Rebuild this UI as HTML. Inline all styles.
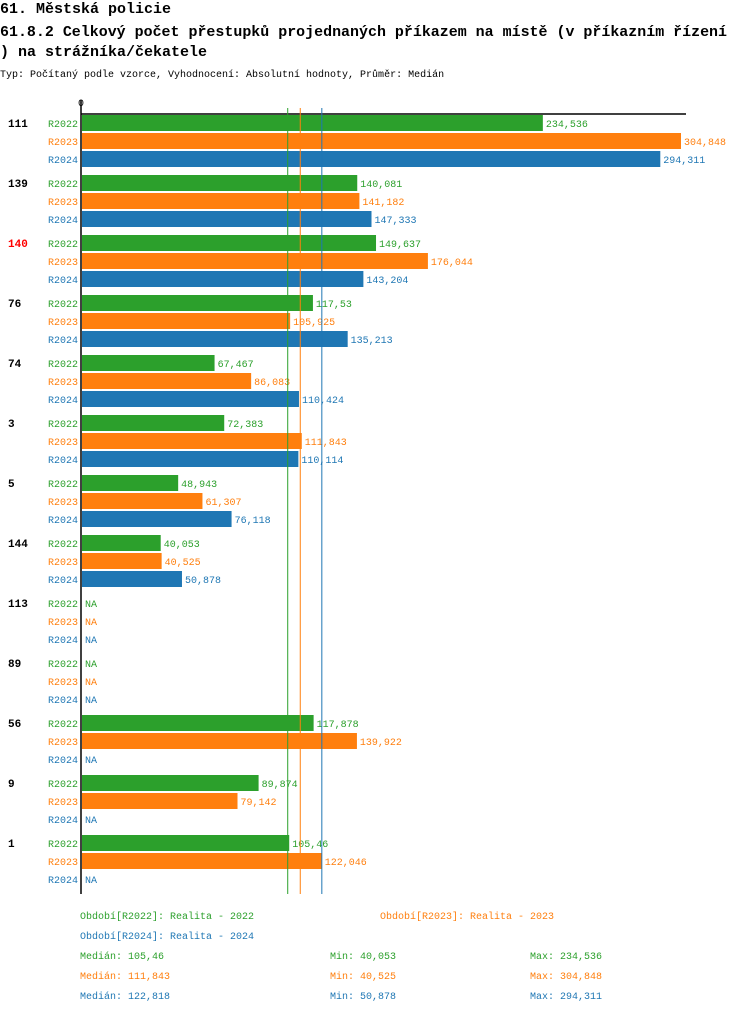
<!DOCTYPE html>
<html><head><meta charset="utf-8"><style>
body{margin:0;background:#fff;width:750px;height:1014px;overflow:hidden}
svg{display:block;font-family:"Liberation Mono",monospace}
</style></head><body>
<svg id="c" width="750" height="1014">
<text x="0" y="13" font-size="15" font-weight="bold">61. Městská policie</text>
<text x="0" y="36" font-size="15" font-weight="bold" textLength="727" lengthAdjust="spacingAndGlyphs">61.8.2 Celkový počet přestupků projednaných příkazem na místě (v příkazním řízení</text>
<text x="0" y="56" font-size="15" font-weight="bold">) na strážníka/čekatele</text>
<text x="0" y="77" font-size="10">Typ: Počítaný podle vzorce, Vyhodnocení: Absolutní hodnoty, Průměr: Medián</text>
<text x="81" y="106" font-size="10" text-anchor="middle">0</text>
<g id="bars"></g>
<g id="legend"></g>
</svg>
<script>
const categories=["111","139","140","76","74","3","5","144","113","89","56","9","1"];
const highlight=["140"];
const seriesNames=["R2022","R2023","R2024"];
const colors=["#2ca02c","#ff7f0e","#1f77b4"];
const r2022=[234.536,140.081,149.637,117.53,67.467,72.383,48.943,40.053,null,null,117.878,89.874,105.46];
const r2023=[304.848,141.182,176.044,105.925,86.083,111.843,61.307,40.525,null,null,139.922,79.142,122.046];
const r2024=[294.311,147.333,143.204,135.213,110.424,110.114,76.118,50.878,null,null,null,null,null];
const medians=[105.46,111.843,122.818];
const mins=[40.053,40.525,50.878];
const maxs=[234.536,304.848,294.311];
const periodLabels=["Období[R2022]: Realita - 2022","Období[R2023]: Realita - 2023","Období[R2024]: Realita - 2024"];
const series=[r2022,r2023,r2024];
const NS="http://www.w3.org/2000/svg";
const x0=82,scale=(681-82)/304.848,top0=115,groupH=60,barPitch=18,barH=16;
const xs=v=>x0+v*scale;
const fmt=v=>String(v).replace('.',',');
const g=document.getElementById('bars');
function el(tag,attrs,txt){const e=document.createElementNS(NS,tag);for(const k in attrs)e.setAttribute(k,attrs[k]);if(txt!==undefined)e.textContent=txt;return e;}
const axisTop=el('line',{x1:81,y1:114,x2:686,y2:114,stroke:'#000','stroke-width':1.5});


g.appendChild(axisTop);
categories.forEach((c,i)=>{
  const gy=top0+i*groupH;
  const lab=el('text',{x:8,y:gy+12,'font-size':11,'font-weight':'bold',fill:highlight.includes(c)?'#f00':'#000'},c);
  
  
  g.appendChild(lab);
  series.forEach((s,j)=>{
    const y=gy+j*barPitch;
    const sl=el('text',{x:78,y:y+12,'font-size':10,'text-anchor':'end',fill:colors[j]},seriesNames[j]);
    
    
    g.appendChild(sl);
    const v=s[i];
    if(v===null){
      const na=el('text',{x:85,y:y+12,'font-size':10,fill:colors[j]},'NA');
      
      
      g.appendChild(na);
    }else{
      const r=el('rect',{x:x0,y:y,width:xs(v)-x0,height:barH,fill:colors[j]});
      
      
      g.appendChild(r);
      const t=el('text',{x:xs(v)+3,y:y+12,'font-size':10,fill:colors[j]},fmt(v));
      
      
      g.appendChild(t);
    }
  });
});
medians.forEach((m,j)=>{
  const l=el('line',{x1:xs(m)-1.5,y1:108,x2:xs(m)-1.5,y2:894,stroke:colors[j],'stroke-width':1});
  
  
  g.appendChild(l);
});
const axisL=el('line',{x1:81,y1:100,x2:81,y2:894,stroke:'#000','stroke-width':1.5});


g.appendChild(axisL);
const lg=document.getElementById('legend');
const lpos=[[80,919],[380,919],[80,939]];
periodLabels.forEach((p,j)=>{
  const t=el('text',{x:lpos[j][0],y:lpos[j][1],'font-size':10,fill:colors[j]},p);
  
  
  lg.appendChild(t);
});
[0,1,2].forEach(j=>{
  const y=959+j*20;
  const a=el('text',{x:80,y:y,'font-size':10,fill:colors[j]},'Medián: '+fmt(medians[j]));
  
  
  lg.appendChild(a);
  const b=el('text',{x:330,y:y,'font-size':10,fill:colors[j]},'Min: '+fmt(mins[j]));
  
  
  lg.appendChild(b);
  const d=el('text',{x:530,y:y,'font-size':10,fill:colors[j]},'Max: '+fmt(maxs[j]));
  
  
  lg.appendChild(d);
});
</script>
</body></html>
